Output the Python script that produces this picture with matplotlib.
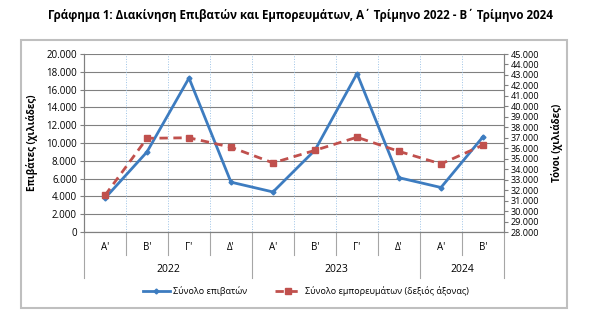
import matplotlib.pyplot as plt
from matplotlib.patches import Rectangle
from matplotlib.ticker import FuncFormatter, MultipleLocator

plt.rcParams['font.family'] = ['Open Sans', 'DejaVu Sans']

quarters = ["Α'", "Β'", "Γ'", "Δ'", "Α'", "Β'", "Γ'", "Δ'", "Α'", "Β'"]
years = ['2022', '2023', '2024']
year_spans = [(0, 3), (4, 7), (8, 9)]
# passengers (thousands), left axis
passengers = [3800, 9000, 17300, 5600, 4500, 9200, 17800, 6100, 5000, 10700]
# goods (thousand tonnes), right axis
goods = [31500, 36950, 37000, 36100, 34600, 35800, 37050, 35700, 34500, 36300]

blue = '#3D7CC0'
red = '#C0504D'


def dotted(v, pos):
    return f'{int(v):,}'.replace(',', '.')


fig = plt.figure(figsize=(6, 3.33), dpi=100)
ax = fig.add_axes([84 / 600, 1 - 232 / 333, 420 / 600, 178 / 333])
ax2 = ax.twinx()

x = list(range(len(quarters)))
ax.plot(x, passengers, color=blue, lw=2, marker='D', ms=2.5, zorder=3)
ax2.plot(x, goods, color=red, lw=2, ls=(0, (3, 2)), marker='s', ms=4.5, zorder=3)

ax.set_xlim(-0.5, len(quarters) - 0.5)
ax.set_ylim(0, 20000)
ax2.set_ylim(28000, 45000)
ax.yaxis.set_major_locator(MultipleLocator(2000))
ax2.yaxis.set_major_locator(MultipleLocator(1000))
ax.yaxis.set_major_formatter(FuncFormatter(dotted))
ax2.yaxis.set_major_formatter(FuncFormatter(dotted))
ax.tick_params(axis='y', labelsize=7, length=3, color='#808080', pad=2)
ax2.tick_params(axis='y', labelsize=6.5, length=3, color='#808080', pad=2)
ax.set_xticks([])

ax.grid(axis='y', color='#808080', lw=0.8)
ax.set_axisbelow(True)
for b in range(1, len(quarters)):
    ax.axvline(b - 0.5, color='#9DC3E6', lw=0.7, ls=':', zorder=1)

for a in (ax, ax2):
    for s in a.spines.values():
        s.set_color('#808080')
    a.spines['top'].set_visible(False)

# category axis below
tr = ax.get_xaxis_transform()
for i, q in enumerate(quarters):
    ax.text(i, -0.085, q, transform=tr, ha='center', va='center', fontsize=7)
for b in range(len(quarters) + 1):
    bound = b - 0.5
    low = -0.26 if b in (0, 4, 8, 10) else -0.13
    ax.plot([bound, bound], [0, low], transform=tr, color='#A6A6A6', lw=0.8, clip_on=False)
for (s, e), yr in zip(year_spans, years):
    ax.text((s + e) / 2, -0.213, yr, transform=tr, ha='center', va='center', fontsize=7.5)

ax.set_ylabel('Επιβάτες (χιλιάδες)', fontsize=7, fontweight='bold', labelpad=6)
ax2.set_ylabel('Τόνοι (χιλιάδες)', fontsize=7, fontweight='bold', rotation=90, labelpad=8)

fig.suptitle('Γράφημα 1: Διακίνηση Επιβατών και Εμπορευμάτων, Α΄ Τρίμηνο 2022 - Β΄ Τρίμηνο 2024',
             x=0.5, y=1 - 15 / 333, va='center', fontsize=8.3, fontweight='bold')

h1, = ax.plot([], [], color=blue, lw=2, marker='D', ms=2.5)
h2, = ax.plot([], [], color=red, lw=2, ls=(0, (3, 2)), marker='s', ms=4.5)
fig.legend([h1, h2], ['Σύνολο επιβατών', 'Σύνολο εμπορευμάτων (δεξιός άξονας)'],
           loc='center', bbox_to_anchor=(0.51, 1 - 291 / 333), ncol=2, frameon=False,
           fontsize=6.5, handlelength=3, columnspacing=3, handletextpad=0.4)

fig.patches.append(Rectangle((21 / 600, 1 - 308 / 333), 546 / 600, 268 / 333,
                             transform=fig.transFigure, fill=False, edgecolor='#BFBFBF', lw=1.5))

fig.savefig('out.png', dpi=100)
